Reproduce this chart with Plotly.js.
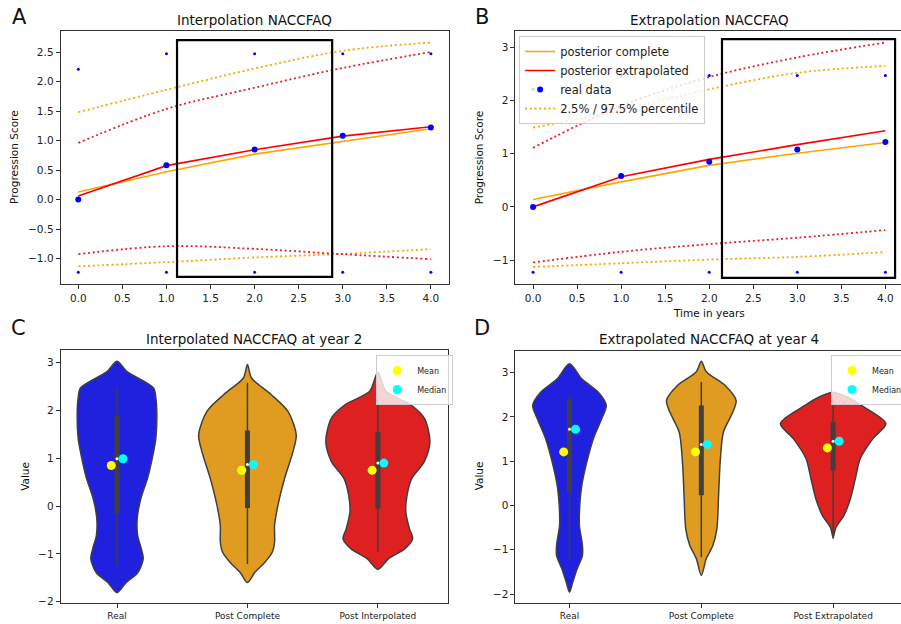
<!DOCTYPE html>
<html>
<head>
<meta charset="utf-8">
<script src="https://cdn.plot.ly/plotly-3.0.1.min.js"></script>
<style>
html, body { margin: 0; padding: 0; overflow: hidden; background: #fff; }
#chart { width: 908px; height: 624px; }
</style>
</head>
<body>
<div id="chart"></div>
<script>
// ---------------- DATA ----------------
const years = [0, 1, 2, 3, 4];
const realMean = [0.0, 0.58, 0.85, 1.08, 1.22];
const realLow = [-1.23, -1.23, -1.23, -1.23, -1.23];
const realHigh = [2.21, 2.47, 2.47, 2.47, 2.47];

// Panel A: interpolation
const aComplete = [0.13, 0.47, 0.77, 0.99, 1.20];
const aCompleteLo = [-1.13, -1.06, -0.98, -0.92, -0.84];
const aCompleteHi = [1.48, 1.86, 2.22, 2.52, 2.66];
const aInterp = [0.06, 0.575, 0.845, 1.075, 1.235];
const aInterpLo = [-0.925, -0.79, -0.835, -0.925, -1.01];
const aInterpHi = [0.96, 1.535, 1.895, 2.23, 2.50];
const highlightA = [1.12, 2.88, -1.31, 2.70];

// Panel B: extrapolation
const bComplete = [0.14, 0.47, 0.78, 1.01, 1.21];
const bCompleteLo = [-1.13, -1.06, -0.99, -0.94, -0.85];
const bCompleteHi = [1.49, 1.82, 2.21, 2.52, 2.65];
const bExtrap = [0.0, 0.566, 0.893, 1.17, 1.43];
const bExtrapLo = [-1.045, -0.845, -0.70, -0.58, -0.436];
const bExtrapHi = [1.11, 1.90, 2.44, 2.81, 3.09];
const highlightB = [2.145, 4.11, -1.333, 3.156];

// Panel C: violins at year 2
const catsC = ['Real', 'Post Complete', 'Post Interpolated'];
const cLevels = [
  [3.03, 2.82, 2.47, 2.26, 1.98, 1.42, 1.0, 0.58, 0.16, -0.26, -0.61, -0.89, -1.1, -1.39, -1.6, -1.81],
  [2.96, 2.68, 2.33, 1.98, 1.49, 1.14, 0.58, 0.02, -0.40, -0.75, -0.96, -1.18, -1.39, -1.6],
  [2.8, 2.40, 2.12, 1.84, 1.35, 0.93, 0.58, 0.23, -0.12, -0.47, -0.68, -0.89, -1.1, -1.32]
];
const cDensity = [
  [0, 0.074, 0.28, 0.298, 0.305, 0.298, 0.27, 0.234, 0.183, 0.155, 0.158, 0.186, 0.201, 0.16, 0.069, 0],
  [0, 0.031, 0.183, 0.311, 0.374, 0.349, 0.285, 0.234, 0.208, 0.208, 0.191, 0.132, 0.056, 0],
  [0, 0.063, 0.252, 0.356, 0.399, 0.356, 0.26, 0.224, 0.214, 0.242, 0.267, 0.208, 0.082, 0]
];
const cQ1 = [-0.16, -0.04, -0.05];
const cQ3 = [1.89, 1.58, 1.55];
const cWhiskLo = [-1.25, -1.21, -0.96];
const cWhiskHi = [2.49, 2.58, 2.40];
const cMedian = [0.99, 0.87, 0.90];
const cMean = [0.85, 0.75, 0.75];

// Panel D: violins at year 4
const catsD = ['Real', 'Post Complete', 'Post Extrapolated'];
const dLevels = [
  [3.2, 2.86, 2.56, 2.26, 1.96, 1.51, 0.98, 0.45, 0.0, -0.45, -0.9, -1.13, -1.43, -1.73, -1.96],
  [3.26, 3.02, 2.71, 2.37, 2.11, 1.66, 0.98, 0.23, -0.53, -0.9, -1.2, -1.58],
  [2.56, 2.45, 2.26, 1.85, 1.51, 1.06, 0.6, 0.15, -0.23, -0.5, -0.72]
];
const dDensity = [
  [0, 0.093, 0.219, 0.279, 0.244, 0.181, 0.131, 0.093, 0.078, 0.075, 0.098, 0.098, 0.058, 0.025, 0],
  [0, 0.038, 0.181, 0.264, 0.239, 0.168, 0.143, 0.131, 0.118, 0.088, 0.038, 0],
  [0, 0.106, 0.214, 0.4, 0.302, 0.206, 0.168, 0.131, 0.081, 0.02, 0]
];
const dQ1 = [0.30, 0.23, 0.79];
const dQ3 = [2.41, 2.26, 1.88];
const dWhiskLo = [-1.24, -1.17, -0.75];
const dWhiskHi = [2.49, 2.79, 2.28];
const dMedian = [1.72, 1.38, 1.45];
const dMean = [1.21, 1.21, 1.30];

// ---------------- STYLE ----------------
const W = 908, H = 624;
const FONT = 'DejaVu Sans, sans-serif';
const ORANGE = '#FFA500', RED = '#FF0000', BLUE = '#0000FF';
const DOTRED = '#E8202A';
const violinFill = ['#2020DF', '#DF9C20', '#DF2020'];
const DARK = '#3f3f3f';
const DOTS = '2px,2.7px';
const px = v => v / W;
const py = v => 1 - v / H;

const traces = [];

function lineSet(xa, ya, comp, compLo, compHi, post, postLo, postHi, postName, legendOn) {
  traces.push({x: years, y: compHi, xaxis: xa, yaxis: ya, mode: 'lines', type: 'scatter',
    line: {color: ORANGE, width: 1.8, dash: DOTS, shape: 'spline'},
    name: '2.5% / 97.5% percentile', showlegend: legendOn, legendrank: 4, hoverinfo: 'skip'});
  traces.push({x: years, y: compLo, xaxis: xa, yaxis: ya, mode: 'lines', type: 'scatter',
    line: {color: ORANGE, width: 1.8, dash: DOTS, shape: 'spline'}, showlegend: false});
  traces.push({x: years, y: postHi, xaxis: xa, yaxis: ya, mode: 'lines', type: 'scatter',
    line: {color: DOTRED, width: 1.8, dash: DOTS, shape: 'spline'}, showlegend: false});
  traces.push({x: years, y: postLo, xaxis: xa, yaxis: ya, mode: 'lines', type: 'scatter',
    line: {color: DOTRED, width: 1.8, dash: DOTS, shape: 'spline'}, showlegend: false});
  traces.push({x: years, y: comp, xaxis: xa, yaxis: ya, mode: 'lines', type: 'scatter',
    line: {color: ORANGE, width: 1.6}, name: 'posterior complete', showlegend: legendOn, legendrank: 1});
  traces.push({x: years, y: post, xaxis: xa, yaxis: ya, mode: 'lines', type: 'scatter',
    line: {color: RED, width: 1.6}, name: postName, showlegend: legendOn, legendrank: 2});
  traces.push({x: years.concat(years), y: realLow.concat(realHigh), xaxis: xa, yaxis: ya, mode: 'markers', type: 'scatter',
    marker: {color: BLUE, size: 3}, showlegend: false});
  traces.push({x: years, y: realMean, xaxis: xa, yaxis: ya, mode: 'markers', type: 'scatter',
    marker: {color: BLUE, size: 6}, name: 'real data', showlegend: legendOn, legendrank: 3});
}
lineSet('x', 'y', aComplete, aCompleteLo, aCompleteHi, aInterp, aInterpLo, aInterpHi, 'posterior interpolated', false);
lineSet('x2', 'y2', bComplete, bCompleteLo, bCompleteHi, bExtrap, bExtrapLo, bExtrapHi, 'posterior extrapolated', true);

function violins(xa, ya, levels, dens, q1, q3, lo, hi, med, mean, legendName) {
  levels.forEach((lv, i) => {
    const xs = [], ys = [];
    for (let k = 0; k < lv.length; k++) { xs.push(i + dens[i][k]); ys.push(lv[k]); }
    for (let k = lv.length - 2; k >= 0; k--) { xs.push(i - dens[i][k]); ys.push(lv[k]); }
    traces.push({x: xs, y: ys, xaxis: xa, yaxis: ya, type: 'scatter', mode: 'lines',
      fill: 'toself', fillcolor: violinFill[i], line: {color: DARK, width: 1.5, shape: 'spline', smoothing: 0.8},
      showlegend: false, hoverinfo: 'skip'});
  });
  const wx = [], wy = [], bx = [], by = [];
  lo.forEach((v, i) => { wx.push(i, i, null); wy.push(lo[i], hi[i], null); bx.push(i, i, null); by.push(q1[i], q3[i], null); });
  traces.push({x: wx, y: wy, xaxis: xa, yaxis: ya, type: 'scatter', mode: 'lines', line: {color: DARK, width: 1.5}, showlegend: false});
  traces.push({x: bx, y: by, xaxis: xa, yaxis: ya, type: 'scatter', mode: 'lines', line: {color: DARK, width: 5}, showlegend: false});
  traces.push({x: med.map((v, i) => i), y: med, xaxis: xa, yaxis: ya, type: 'scatter', mode: 'markers',
    marker: {color: '#ffffff', size: 3}, showlegend: false});
  traces.push({x: mean.map((v, i) => i - 0.044), y: mean, xaxis: xa, yaxis: ya, type: 'scatter', mode: 'markers',
    marker: {color: '#FFFF00', size: 9}, name: 'Mean', legend: legendName});
  traces.push({x: med.map((v, i) => i + 0.046), y: med, xaxis: xa, yaxis: ya, type: 'scatter', mode: 'markers',
    marker: {color: '#00FFFF', size: 9}, name: 'Median', legend: legendName});
}
violins('x3', 'y3', cLevels, cDensity, cQ1, cQ3, cWhiskLo, cWhiskHi, cMedian, cMean, 'legend2');
violins('x4', 'y4', dLevels, dDensity, dQ1, dQ3, dWhiskLo, dWhiskHi, dMedian, dMean, 'legend3');

const axBase = {showline: true, mirror: true, linecolor: '#333', linewidth: 1, ticks: 'outside', ticklen: 4,
  tickcolor: '#333', showgrid: false, zeroline: false, tickfont: {family: FONT, size: 10.5, color: '#222'}};

const layout = {
  width: W, height: H, margin: {l: 0, r: 0, t: 0, b: 0}, paper_bgcolor: '#fff', plot_bgcolor: '#fff',
  font: {family: FONT, color: '#222'},
  xaxis: Object.assign({}, axBase, {domain: [px(61), px(451)], range: [-0.2, 4.2], dtick: 0.5, tick0: 0, tickformat: '.1f', anchor: 'y'}),
  yaxis: Object.assign({}, axBase, {domain: [py(284), py(31)], range: [-1.43, 2.856], dtick: 0.5, tick0: 0, tickformat: '.1f', anchor: 'x'}),
  xaxis2: Object.assign({}, axBase, {domain: [px(518.3), 1], range: [-0.2, 4.2], dtick: 0.5, tick0: 0, tickformat: '.1f', anchor: 'y2'}),
  yaxis2: Object.assign({}, axBase, {domain: [py(284), py(31)], range: [-1.45, 3.307], dtick: 1, tick0: 0, anchor: 'x2'}),
  xaxis3: Object.assign({}, axBase, {domain: [px(61), px(450)], range: [-0.432, 2.534], tickvals: [0, 1, 2], ticktext: catsC,
    tickfont: {family: FONT, size: 9, color: '#222'}, anchor: 'y3'}),
  yaxis3: Object.assign({}, axBase, {domain: [py(602.7), py(350)], range: [-2.02, 3.265], dtick: 1, tick0: 0, anchor: 'x3'}),
  xaxis4: Object.assign({}, axBase, {domain: [px(518.3), 1], range: [-0.41, 2.53], tickvals: [0, 1, 2], ticktext: catsD,
    tickfont: {family: FONT, size: 9, color: '#222'}, anchor: 'y4'}),
  yaxis4: Object.assign({}, axBase, {domain: [py(603.3), py(350.7)], range: [-2.21, 3.497], dtick: 1, tick0: 0, anchor: 'x4'}),
  legend: {x: px(522), y: py(36), xanchor: 'left', yanchor: 'top', bgcolor: 'rgba(255,255,255,0.8)',
    bordercolor: '#cccccc', borderwidth: 1, font: {family: FONT, size: 11.5, color: '#222'}, itemwidth: 30, tracegroupgap: 0},
  legend2: {x: px(378.3), y: py(355), xanchor: 'left', yanchor: 'top', bgcolor: 'rgba(255,255,255,0.8)',
    bordercolor: '#cccccc', borderwidth: 1, font: {family: FONT, size: 8, color: '#222'}, itemwidth: 30},
  legend3: {x: px(835.7), y: py(355), xanchor: 'left', yanchor: 'top', bgcolor: 'rgba(255,255,255,0.8)',
    bordercolor: '#cccccc', borderwidth: 1, font: {family: FONT, size: 8, color: '#222'}, itemwidth: 30},
  shapes: [
    {type: 'rect', xref: 'x', yref: 'y', x0: highlightA[0], x1: highlightA[1], y0: highlightA[2], y1: highlightA[3],
      line: {color: '#000', width: 2.2}, layer: 'above'},
    {type: 'rect', xref: 'x2', yref: 'y2', x0: highlightB[0], x1: highlightB[1], y0: highlightB[2], y1: highlightB[3],
      line: {color: '#000', width: 2.2}, layer: 'above'}
  ],
  annotations: []
};

function ann(text, x, y, size, angle) {
  layout.annotations.push({text: text, xref: 'paper', yref: 'paper', x: px(x), y: py(y), xanchor: 'center', yanchor: 'middle',
    showarrow: false, textangle: angle || 0, font: {family: FONT, size: size, color: '#111'}});
}
ann('A', 20, 17, 21);
ann('B', 485, 17, 21);
ann('C', 19, 328, 21);
ann('D', 485, 328, 21);
ann('Interpolation NACCFAQ', 256, 19.5, 13.5);
ann('Extrapolation NACCFAQ', 713, 19.5, 13.5);
ann('Interpolated NACCFAQ at year 2', 255.5, 339, 13.5);
ann('Extrapolated NACCFAQ at year 4', 713, 339, 13.5);
ann('Progression Score', 14, 157, 10.5, -90);
ann('Progression Score', 482, 157, 10.5, -90);
ann('Time in years', 713, 312.5, 10.5);
ann('Value', 25, 476, 10.5, -90);
ann('Value', 482, 476, 10.5, -90);

Plotly.newPlot('chart', traces, layout, {staticPlot: true, displayModeBar: false});
</script>
</body>
</html>
